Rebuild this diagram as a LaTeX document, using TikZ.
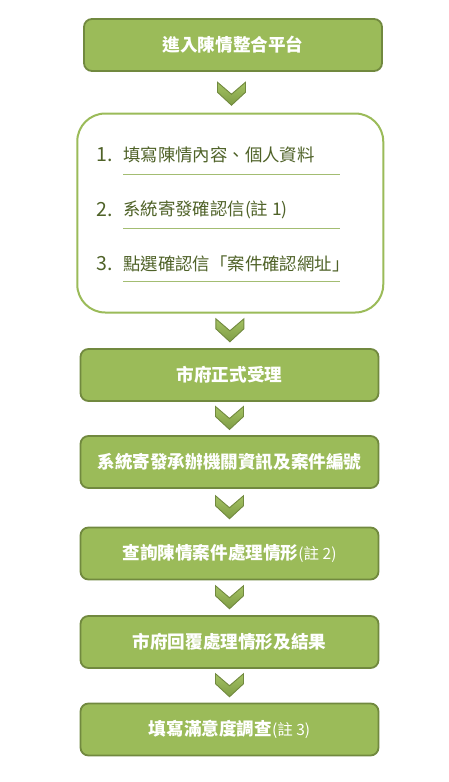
\documentclass[tikz,border=0pt]{standalone}
\usepackage{fontspec}
\newfontfamily\cjk{Noto Sans CJK TC}
\usetikzlibrary{positioning}

\definecolor{boxgreen}{HTML}{9BBB59}
\definecolor{boxedge}{HTML}{71893F}
\definecolor{chevtop}{HTML}{A4C263}
\definecolor{chevbot}{HTML}{7E9C45}
\definecolor{itemtext}{HTML}{4F6228}
\definecolor{ruleline}{HTML}{A3BD72}

\tikzset{
  stepbox/.style={draw=boxedge, fill=boxgreen, line width=1.8pt, rounded corners=8pt,
    minimum width=298pt, minimum height=52pt, text=white,
    font=\cjk\bfseries\fontsize{17.6}{20}\selectfont},
  listbox/.style={draw=boxgreen, fill=white, line width=2pt, rounded corners=28pt,
    minimum width=306pt, minimum height=199pt},
  item/.style={anchor=west, inner sep=0pt, text=itemtext, font=\cjk\fontsize{17.4}{20}\selectfont},
  num/.style={item, font=\cjk\fontsize{19.5}{22}\selectfont},
  rule/.style={draw=ruleline, line width=0.8pt},
  chev/.pic={
    \draw[boxedge, line width=0.9pt, top color=chevtop, bottom color=chevbot]
      (-14,-12) -- (0,0) -- (14,-12) -- (14,-2) -- (0,11) -- (-14,-2) -- cycle;
  }
}
\newcommand\note[1]{{\mdseries\fontsize{15.5}{18}\selectfont(註 #1)}}

\begin{document}
\begin{tikzpicture}[x=1pt, y=-1pt]
  \useasboundingbox[fill=white] (0,0) rectangle (449,782);

  \node[stepbox] (enter) at (233,45) {進入陳情整合平台};

  \node[listbox] (list) at (230.25,213) {};
  \node[num]  (n1) at (96,155) {1.};
  \node[item] (t1) at (123,155) {填寫陳情內容、個人資料};
  \node[num]  (n2) at (96,210) {2.};
  \node[item] (t2) at (123,210) {系統寄發確認信(註 1)};
  \node[num]  (n3) at (96,264) {3.};
  \node[item] (t3) at (123,264) {點選確認信「案件確認網址」};
  \draw[rule] (123,174) -- (340,174); %% under 1
  \draw[rule] (123,228) -- (340,228); %% under 2
  \draw[rule] (123,281) -- (340,281); %% under 3

  \node[stepbox] (accept) at (229.5,375) {市府正式受理};
  \node[stepbox] (number) at (229.5,462) {系統寄發承辦機關資訊及案件編號};
  \node[stepbox] (query)  at (229.5,553.5) {查詢陳情案件處理情形\note{2}};
  \node[stepbox] (reply)  at (229.5,642) {市府回覆處理情形及結果};
  \node[stepbox] (survey) at (229.5,729.5) {填寫滿意度調查\note{3}};

  \path (enter.south) -- coordinate[pos=0.55] (c1) (list.north);
  \path (list.south) -- coordinate[midway] (c2) (accept.north);
  \path (accept.south) -- coordinate[midway] (c3) (number.north);
  \path (number.south) -- coordinate[midway] (c4) (query.north);
  \path (query.south) -- coordinate[midway] (c5) (reply.north);
  \path (reply.south) -- coordinate[midway] (c6) (survey.north);
  \foreach \c in {c1,c2,c3,c4,c5,c6}
    \pic at (\c) {chev};
\end{tikzpicture}
\end{document}
